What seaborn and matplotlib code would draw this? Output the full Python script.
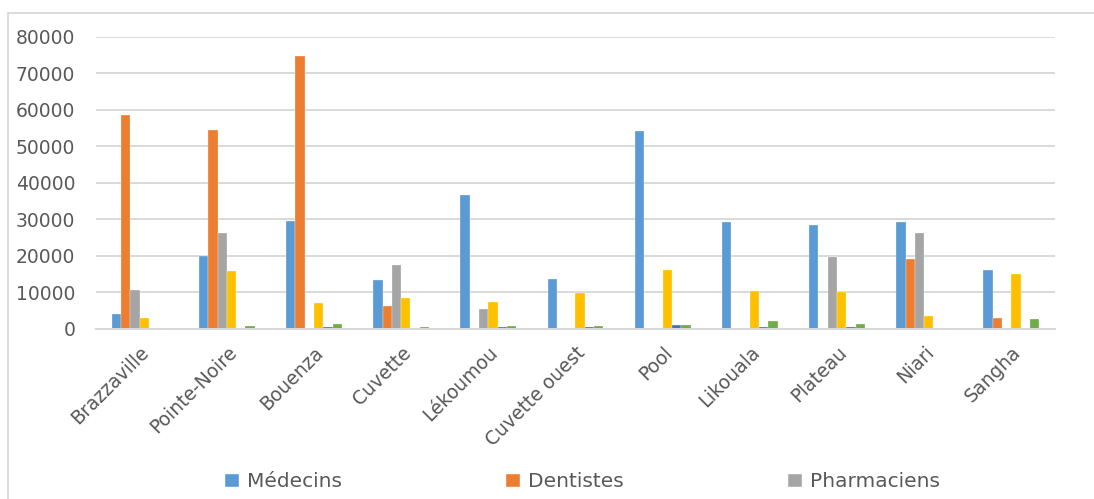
import pandas as pd
import matplotlib.pyplot as plt
import seaborn as sns
from matplotlib.patches import Patch
from matplotlib.lines import Line2D

# Données
departements = ['Brazzaville', 'Pointe-Noire', 'Bouenza', 'Cuvette', 'Lékoumou',
                'Cuvette ouest', 'Pool', 'Likouala', 'Plateau', 'Niari', 'Sangha']
medecins = [4200, 20000, 29500, 13500, 36700, 13800, 54200, 29400, 28500, 29400, 16200]
dentistes = [58700, 54400, 74700, 6200, 0, 0, 0, 0, 0, 19300, 3000]
pharmaciens = [10800, 26300, 0, 17500, 5400, 0, 0, 0, 19800, 26300, 0]
serie_4 = [2900, 16000, 7000, 8600, 7300, 9900, 16100, 10400, 10100, 3600, 15100]
serie_5 = [0, 400, 500, 400, 500, 500, 1200, 600, 600, 0, 400]
serie_6 = [200, 700, 1300, 600, 900, 800, 1200, 2300, 1300, 400, 2700]

series = ['Médecins', 'Dentistes', 'Pharmaciens', 'Série 4', 'Série 5', 'Série 6']
couleurs = ['#5B9BD5', '#ED7D31', '#A5A5A5', '#FFC000', '#4472C4', '#70AD47']

valeurs = [medecins, dentistes, pharmaciens, serie_4, serie_5, serie_6]
rows = []
for nom, vals in zip(series, valeurs):
    for dep, v in zip(departements, vals):
        rows.append({'Département': dep, 'Série': nom, 'Effectif': v})
df = pd.DataFrame(rows)

sns.set_style('white')
plt.rcParams['font.family'] = ['DejaVu Sans']
texte = '#595959'
grille = '#D9D9D9'

fig = plt.figure(figsize=(10.94, 4.99), dpi=100)
ax = fig.add_axes([0.0878, 0.3407, 0.8765, 0.5852])

sns.barplot(data=df, x='Département', y='Effectif', hue='Série',
            order=departements, hue_order=series, palette=couleurs,
            saturation=1, width=0.64, edgecolor='#FFFFFF', linewidth=0.2,
            ax=ax, legend=False)

ax.set_ylim(0, 80000)
ax.set_yticks(range(0, 80001, 10000))
ax.set_xlim(-0.5, len(departements) - 0.5)
ax.yaxis.grid(True, color=grille, linewidth=1.4)
ax.set_axisbelow(True)
for s in ['top', 'right', 'left']:
    ax.spines[s].set_visible(False)
ax.spines['bottom'].set_color(grille)
ax.spines['bottom'].set_linewidth(1.4)
ax.set_xlabel('')
ax.set_ylabel('')
ax.tick_params(axis='both', length=0, labelcolor=texte)
ax.tick_params(axis='y', pad=15, labelsize=13.5)
ax.tick_params(axis='x', pad=10, labelsize=13.5)
plt.setp(ax.get_xticklabels(), rotation=45, ha='right', rotation_mode='anchor')

# Légende (seules les trois premières séries sont visibles)
handles = [Patch(facecolor=c) for c in couleurs[:3]]
fig.legend(handles, series[:3], loc='center left', bbox_to_anchor=(0.188, 0.035),
           ncol=3, frameon=False, fontsize=14.5, labelcolor=texte,
           handlelength=0.75, handleheight=0.75, handletextpad=0.4,
           columnspacing=8.1)

# Bordure du cadre du graphique
fig.add_artist(Line2D([8 / 1094, 8 / 1094], [0, 1 - 13 / 499], color=grille,
                      linewidth=1.3, transform=fig.transFigure))
fig.add_artist(Line2D([8 / 1094, 1], [1 - 13 / 499, 1 - 13 / 499], color=grille,
                      linewidth=1.3, transform=fig.transFigure))

fig.savefig('out.png', dpi=100)
